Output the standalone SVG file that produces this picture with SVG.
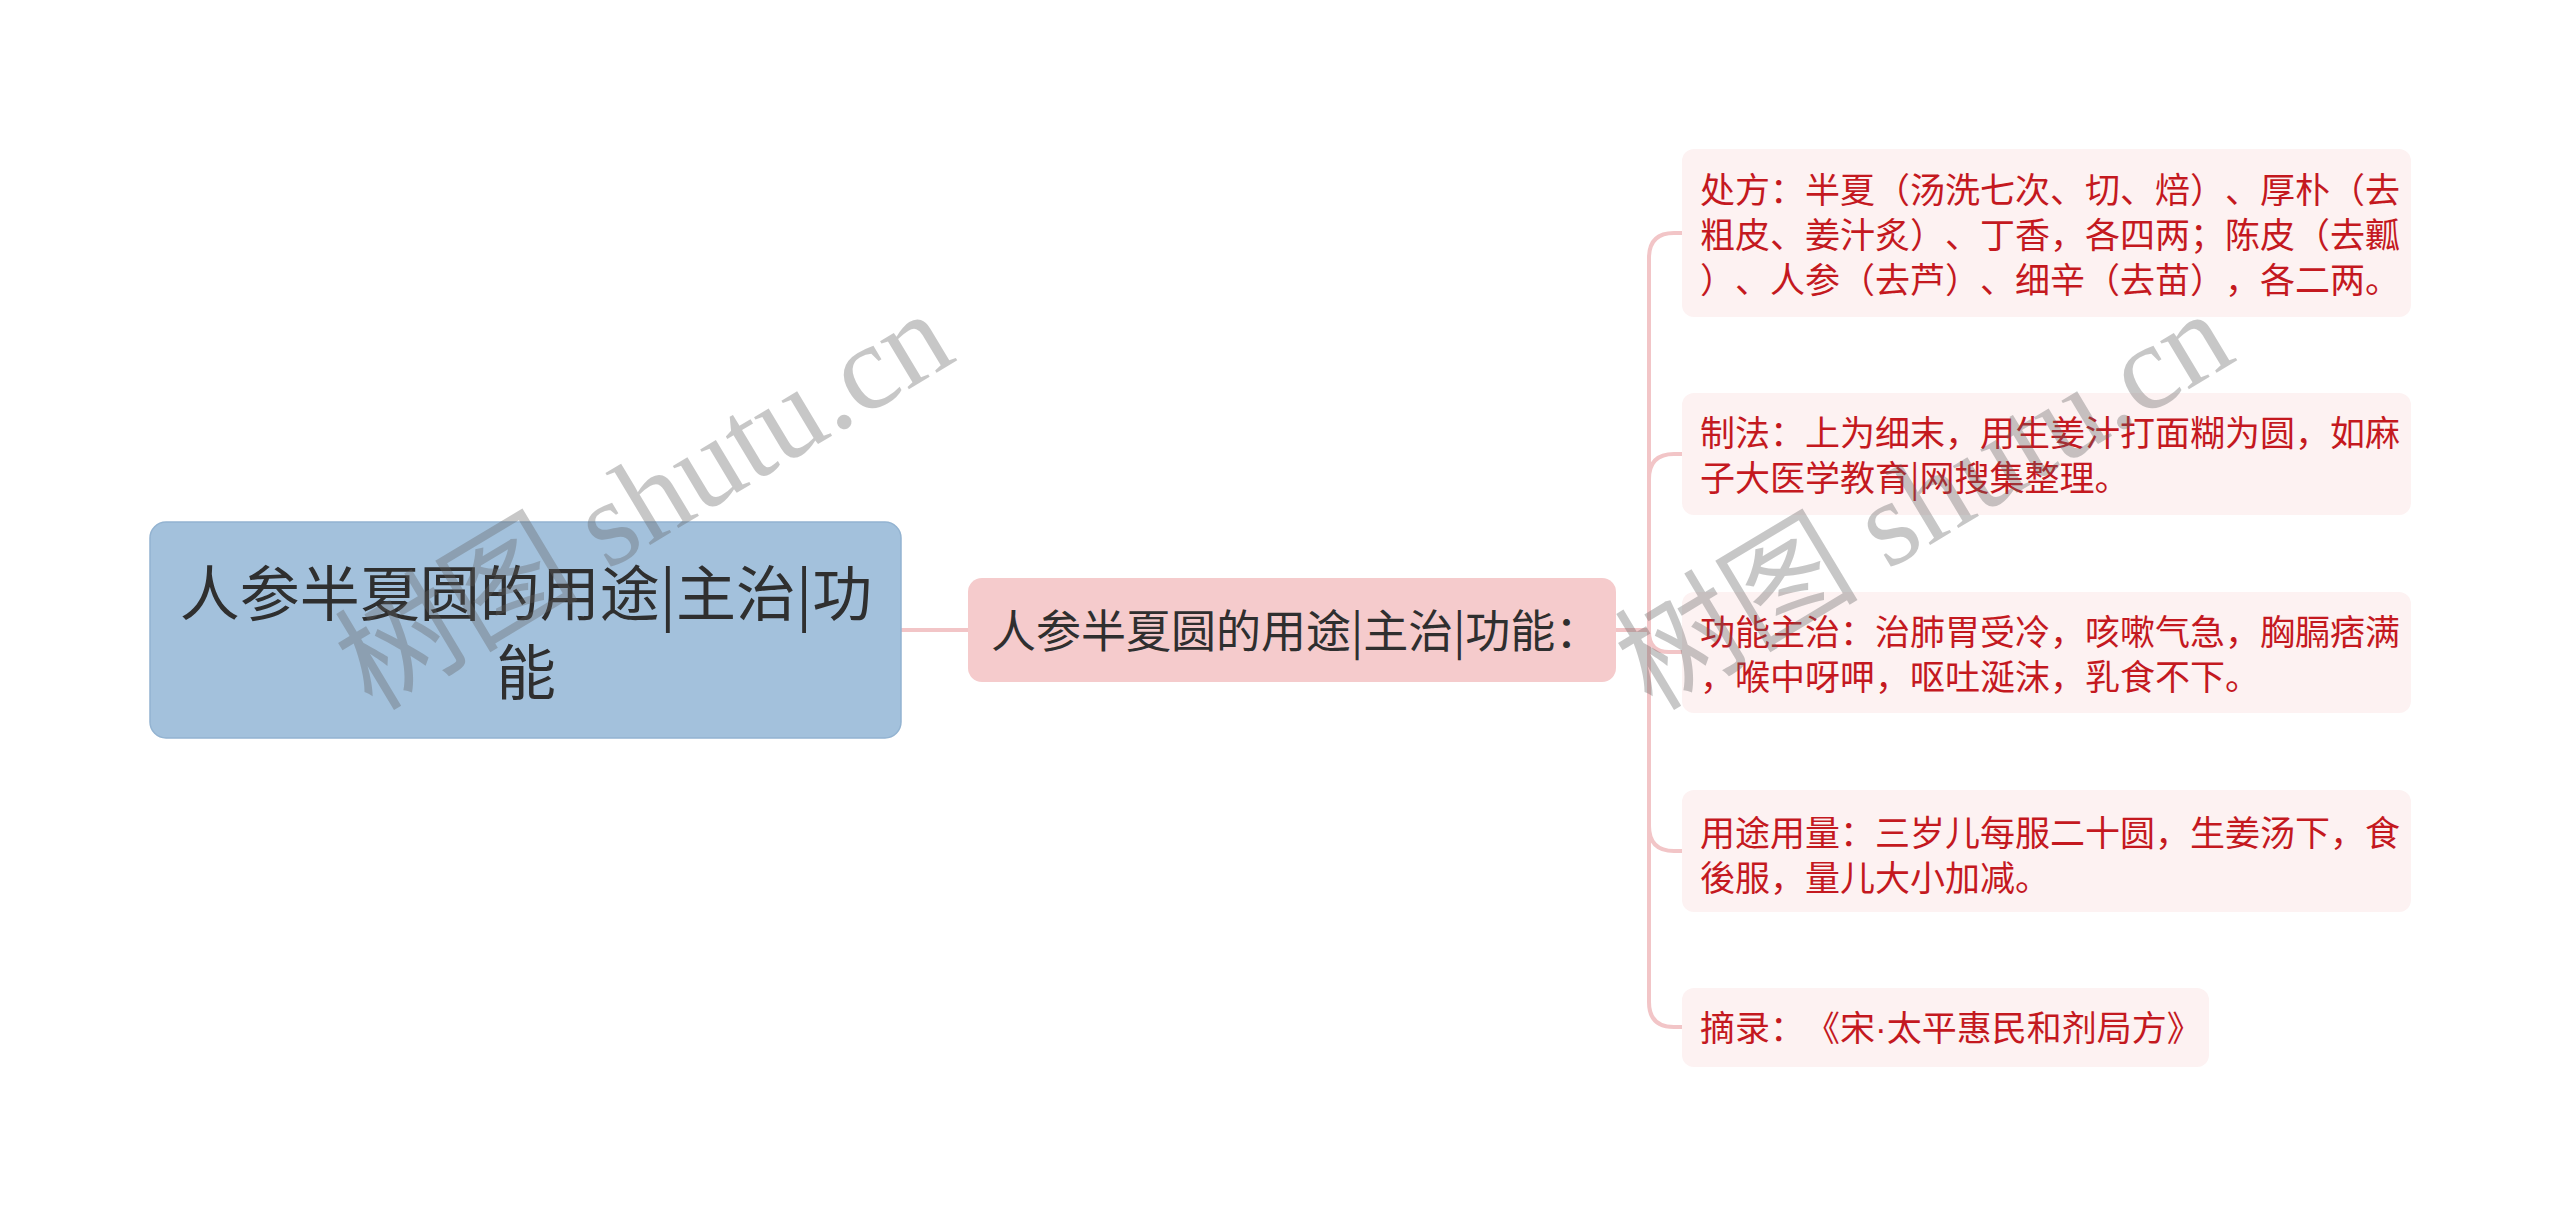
<svg xmlns="http://www.w3.org/2000/svg" width="2560" height="1216" viewBox="0 0 2560 1216">
<style>
.cjk{font-family:"Noto Sans CJK SC","Noto Sans",sans-serif;text-spacing-trim:space-all}
.root-box{fill:#a3c1dc;stroke:#93b3d1;stroke-width:1.5}
.root-txt{font-size:60px;fill:#2f2f2f;text-anchor:middle}
.mid-box{fill:#f5cbcc}
.mid-txt{font-size:45px;fill:#2f2f2f}
.leaf-box{fill:#fdf2f2}
.leaf-txt{font-size:35px;fill:#c4191f}
.dot{font-family:"Liberation Sans",sans-serif}
.conn{fill:none;stroke:#f2c5c7;stroke-width:4;stroke-linecap:round}
.wm{font-family:"Liberation Serif","Noto Sans CJK SC",serif;font-size:122px;fill:#626262;opacity:0.35}
</style>
<rect width="2560" height="1216" fill="#ffffff"/>
<g id="connectors">
<path class="conn" d="M901 630 H968"/>
<path class="conn" d="M1616 630 H1649 V258 Q1649 233 1674 233 H1682"/>
<path class="conn" d="M1616 630 H1649 V479 Q1649 454 1674 454 H1682"/>
<path class="conn" d="M1616 630 H1649 V632 Q1649 652 1669 652 H1682"/>
<path class="conn" d="M1616 630 H1649 V826 Q1649 851 1674 851 H1682"/>
<path class="conn" d="M1616 630 H1649 V1002 Q1649 1027 1674 1027 H1682"/>
</g>
<g id="root">
<rect class="root-box" x="150" y="522" width="751" height="216" rx="16"/>
<text class="cjk root-txt" x="526" y="616">人参半夏圆的用途|主治|功</text>
<text class="cjk root-txt" x="526" y="695">能</text>
</g>
<g id="mid">
<rect class="mid-box" x="968" y="578" width="648" height="104" rx="14"/>
<text class="cjk mid-txt" x="991" y="648">人参半夏圆的用途|主治|功能：</text>
</g>
<g id="leaf1">
<rect class="leaf-box" x="1682" y="149" width="729" height="168" rx="12"/>
<text class="cjk leaf-txt" x="1700" y="203">处方：半夏（汤洗七次、切、焙）、厚朴（去</text>
<text class="cjk leaf-txt" x="1700" y="248">粗皮、姜汁炙）、丁香，各四两；陈皮（去瓤</text>
<text class="cjk leaf-txt" x="1700" y="293">）、人参（去芦）、细辛（去苗），各二两。</text>
</g>
<g id="leaf2">
<rect class="leaf-box" x="1682" y="393" width="729" height="122" rx="12"/>
<text class="cjk leaf-txt" x="1700" y="446">制法：上为细末，用生姜汁打面糊为圆，如麻</text>
<text class="cjk leaf-txt" x="1700" y="491">子大医学教育|网搜集整理。</text>
</g>
<g id="leaf3">
<rect class="leaf-box" x="1682" y="592" width="729" height="121" rx="12"/>
<text class="cjk leaf-txt" x="1700" y="645">功能主治：治肺胃受冷，咳嗽气急，胸膈痞满</text>
<text class="cjk leaf-txt" x="1700" y="690">，喉中呀呷，呕吐涎沫，乳食不下。</text>
</g>
<g id="leaf4">
<rect class="leaf-box" x="1682" y="790" width="729" height="122" rx="12"/>
<text class="cjk leaf-txt" x="1700" y="846">用途用量：三岁儿每服二十圆，生姜汤下，食</text>
<text class="cjk leaf-txt" x="1700" y="891">後服，量儿大小加减。</text>
</g>
<g id="leaf5">
<rect class="leaf-box" x="1682" y="988" width="527" height="79" rx="12"/>
<text class="cjk leaf-txt" x="1700" y="1041">摘录：《宋<tspan class="dot">·</tspan>太平惠民和剂局方》</text>
</g>
<g id="watermarks">
<text class="wm" transform="translate(372,712) rotate(-31)">树图 shutu.cn</text>
<text class="wm" transform="translate(1652,712) rotate(-31)">树图 shutu.cn</text>
</g>
</svg>
